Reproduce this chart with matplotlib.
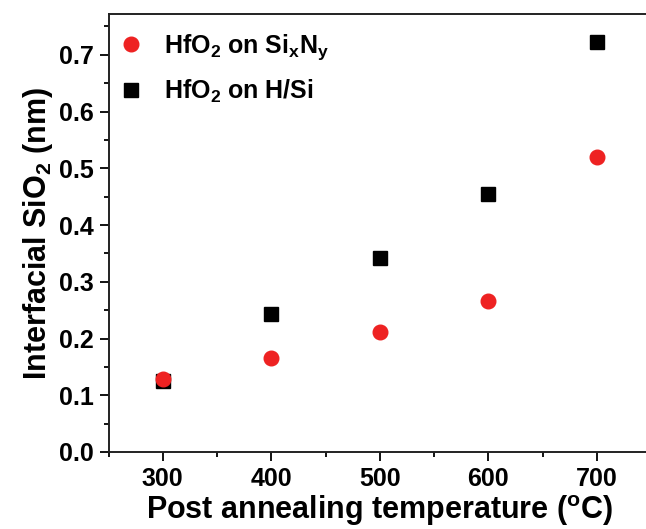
import matplotlib
matplotlib.use("Agg")
from matplotlib import pyplot as plt
from matplotlib.ticker import MultipleLocator, FormatStrFormatter

temps = [300, 400, 500, 600, 700]
sixny = [0.128, 0.165, 0.212, 0.266, 0.520]
hsi = [0.125, 0.243, 0.342, 0.455, 0.723]

plt.rcParams['font.family'] = ['Liberation Sans', 'DejaVu Sans']
plt.rcParams['font.weight'] = 'bold'
plt.rcParams['mathtext.fontset'] = 'custom'
plt.rcParams['mathtext.rm'] = 'Liberation Sans:bold'
plt.rcParams['mathtext.bf'] = 'Liberation Sans:bold'
plt.rcParams['mathtext.it'] = 'Liberation Sans:bold'

fig = plt.figure(figsize=(6.46, 5.29), dpi=100)
ax = fig.add_axes([0.168, 0.1456, 0.84, 0.828])

sq, = ax.plot(temps, hsi, 's', color='black', markersize=9.8, zorder=3,
              label='HfO$_2$ on H/Si')
ci, = ax.plot(temps, sixny, 'o', color='#ee2222', markersize=10.5, zorder=4,
              label='HfO$_2$ on Si$_\\mathrm{x}$N$_\\mathrm{y}$')

ax.set_xlim(250, 750)
ax.set_ylim(0, 0.772)
ax.xaxis.set_major_locator(MultipleLocator(100))
ax.xaxis.set_minor_locator(MultipleLocator(50))
ax.yaxis.set_major_locator(MultipleLocator(0.1))
ax.yaxis.set_minor_locator(MultipleLocator(0.05))
ax.yaxis.set_major_formatter(FormatStrFormatter('%.1f'))
ax.tick_params(which='major', direction='out', length=6.5, width=1.3, labelsize=18, pad=4)
ax.tick_params(which='minor', direction='out', length=3.5, width=1.3)
ax.tick_params(top=False, right=False)
for s in ax.spines.values():
    s.set_linewidth(1.4)
    s.set_color('#222222')

ax.set_xlabel('Post annealing temperature ($^\\mathrm{o}$C)', fontsize=22, fontweight='bold', labelpad=2)
ax.set_ylabel('Interfacial SiO$_2$ (nm)', fontsize=22, fontweight='bold', labelpad=3)

ax.legend(handles=[ci, sq], loc='upper left', frameon=False, fontsize=18,
          handlelength=1.0, handletextpad=0.8, borderpad=0.4, borderaxespad=0,
          labelspacing=0.62, bbox_to_anchor=(0.0, 0.98))

fig.savefig('out.png', dpi=100)
